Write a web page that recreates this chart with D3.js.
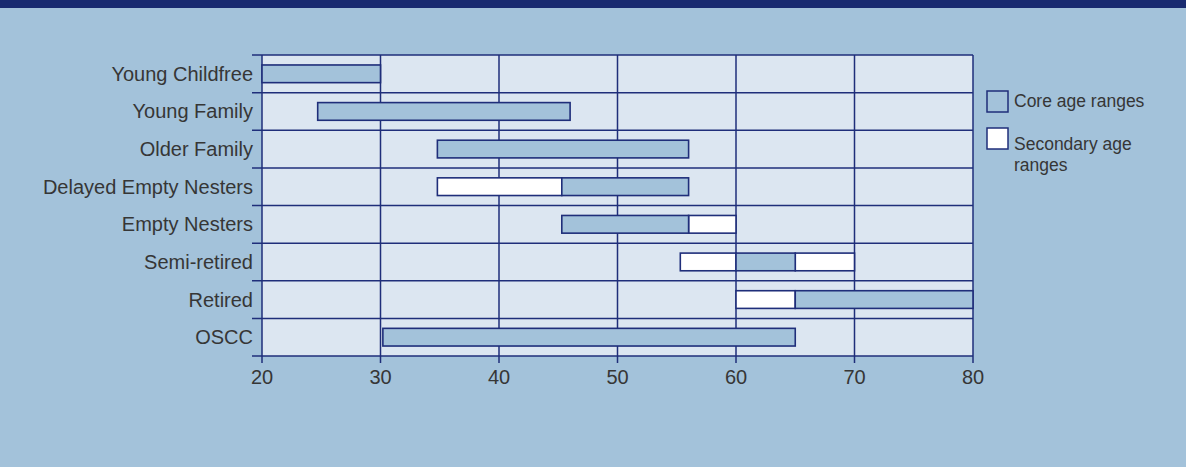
<!DOCTYPE html>
<html lang="en">
<head>
<meta charset="UTF-8">
<title>Age ranges by life stage</title>
<script src="https://d3js.org/d3.v7.min.js"></script>
<style>
  body { margin: 0; background: #a3c2da; }
  svg { display: block; }
  text { font-family: "Liberation Sans", Arial, sans-serif; fill: #363636; }
</style>
</head>
<body>
<script>
// life stages, top to bottom
const stages = ["Young Childfree", "Young Family", "Older Family", "Delayed Empty Nesters",
                "Empty Nesters", "Semi-retired", "Retired", "OSCC"];
// core age ranges [stage, from, to]
const coreRanges = [
  ["Young Childfree", 20, 30],
  ["Young Family", 24.7, 46],
  ["Older Family", 34.8, 56],
  ["Delayed Empty Nesters", 45.3, 56],
  ["Empty Nesters", 45.3, 56],
  ["Semi-retired", 60, 65],
  ["Retired", 65, 80],
  ["OSCC", 30.2, 65]
];
// secondary age ranges
const secondaryRanges = [
  ["Delayed Empty Nesters", 34.8, 45.3],
  ["Empty Nesters", 56, 60],
  ["Semi-retired", 55.3, 60],
  ["Semi-retired", 65, 70],
  ["Retired", 60, 65]
];
const xTicks = [20, 30, 40, 50, 60, 70, 80];
const legendItems = [["Core age ranges"], ["Secondary age", "ranges"]];

const W = 1186, H = 467;
const navy = "#1f2e7a", core = "#a3c2da";
const margin = {top: 55, left: 262, right: 213, bottom: 111};

const svg = d3.select("body").append("svg").attr("width", W).attr("height", H);
svg.append("rect").attr("width", W).attr("height", H).attr("fill", "#a3c2da");
svg.append("rect").attr("width", W).attr("height", 8).attr("fill", "#182a70");

const x = d3.scaleLinear().domain([20, 80]).range([margin.left, W - margin.right]);
const y = d3.scaleBand().domain(stages).range([margin.top, H - margin.bottom]);
const bh = y.bandwidth() * 0.47;

svg.append("rect")
  .attr("x", x(20)).attr("y", margin.top)
  .attr("width", x(80) - x(20)).attr("height", H - margin.bottom - margin.top)
  .attr("fill", "#dce6f1");

// vertical grid lines (with ticks below)
svg.append("g").selectAll("line").data(xTicks).enter().append("line")
  .attr("x1", d => x(d)).attr("x2", d => x(d))
  .attr("y1", margin.top).attr("y2", H - margin.bottom + 7)
  .attr("stroke", navy).attr("stroke-width", 1.5);

// horizontal row lines
const rowEdges = stages.map(s => y(s)).concat([H - margin.bottom]);
svg.append("g").selectAll("line").data(rowEdges).enter().append("line")
  .attr("x1", x(20) - 10).attr("x2", x(80))
  .attr("y1", d => d).attr("y2", d => d)
  .attr("stroke", navy).attr("stroke-width", 1.5);

function drawBars(data, fill) {
  svg.append("g").selectAll("rect").data(data).enter().append("rect")
    .attr("x", d => x(d[1])).attr("width", d => x(d[2]) - x(d[1]))
    .attr("y", d => y(d[0]) + (y.bandwidth() - bh) / 2).attr("height", bh)
    .attr("fill", fill).attr("stroke", navy).attr("stroke-width", 1.6);
}
drawBars(secondaryRanges, "#fff");
drawBars(coreRanges, core);

// category labels
svg.append("g").selectAll("text").data(stages).enter().append("text")
  .attr("x", x(20) - 9).attr("y", d => y(d) + y.bandwidth() / 2)
  .attr("text-anchor", "end").attr("dominant-baseline", "central")
  .style("font-size", "20px").text(d => d);

// x tick labels
svg.append("g").selectAll("text").data(xTicks).enter().append("text")
  .attr("x", d => x(d)).attr("y", H - margin.bottom + 28)
  .attr("text-anchor", "middle")
  .style("font-size", "20px").text(d => d);

// legend
const lg = svg.append("g").attr("transform", "translate(987,91)");
legendItems.forEach((lines, i) => {
  const g = lg.append("g").attr("transform", `translate(0,${i * 37})`);
  g.append("rect").attr("width", 21).attr("height", 21)
    .attr("fill", i === 0 ? core : "#fff").attr("stroke", navy).attr("stroke-width", 1.5);
  const first = lines.length > 1 ? 22 : 16;
  lines.forEach((t, j) => {
    g.append("text").attr("x", 27).attr("y", first + j * 21)
      .style("font-size", "17.5px").text(t);
  });
});
</script>
</body>
</html>
